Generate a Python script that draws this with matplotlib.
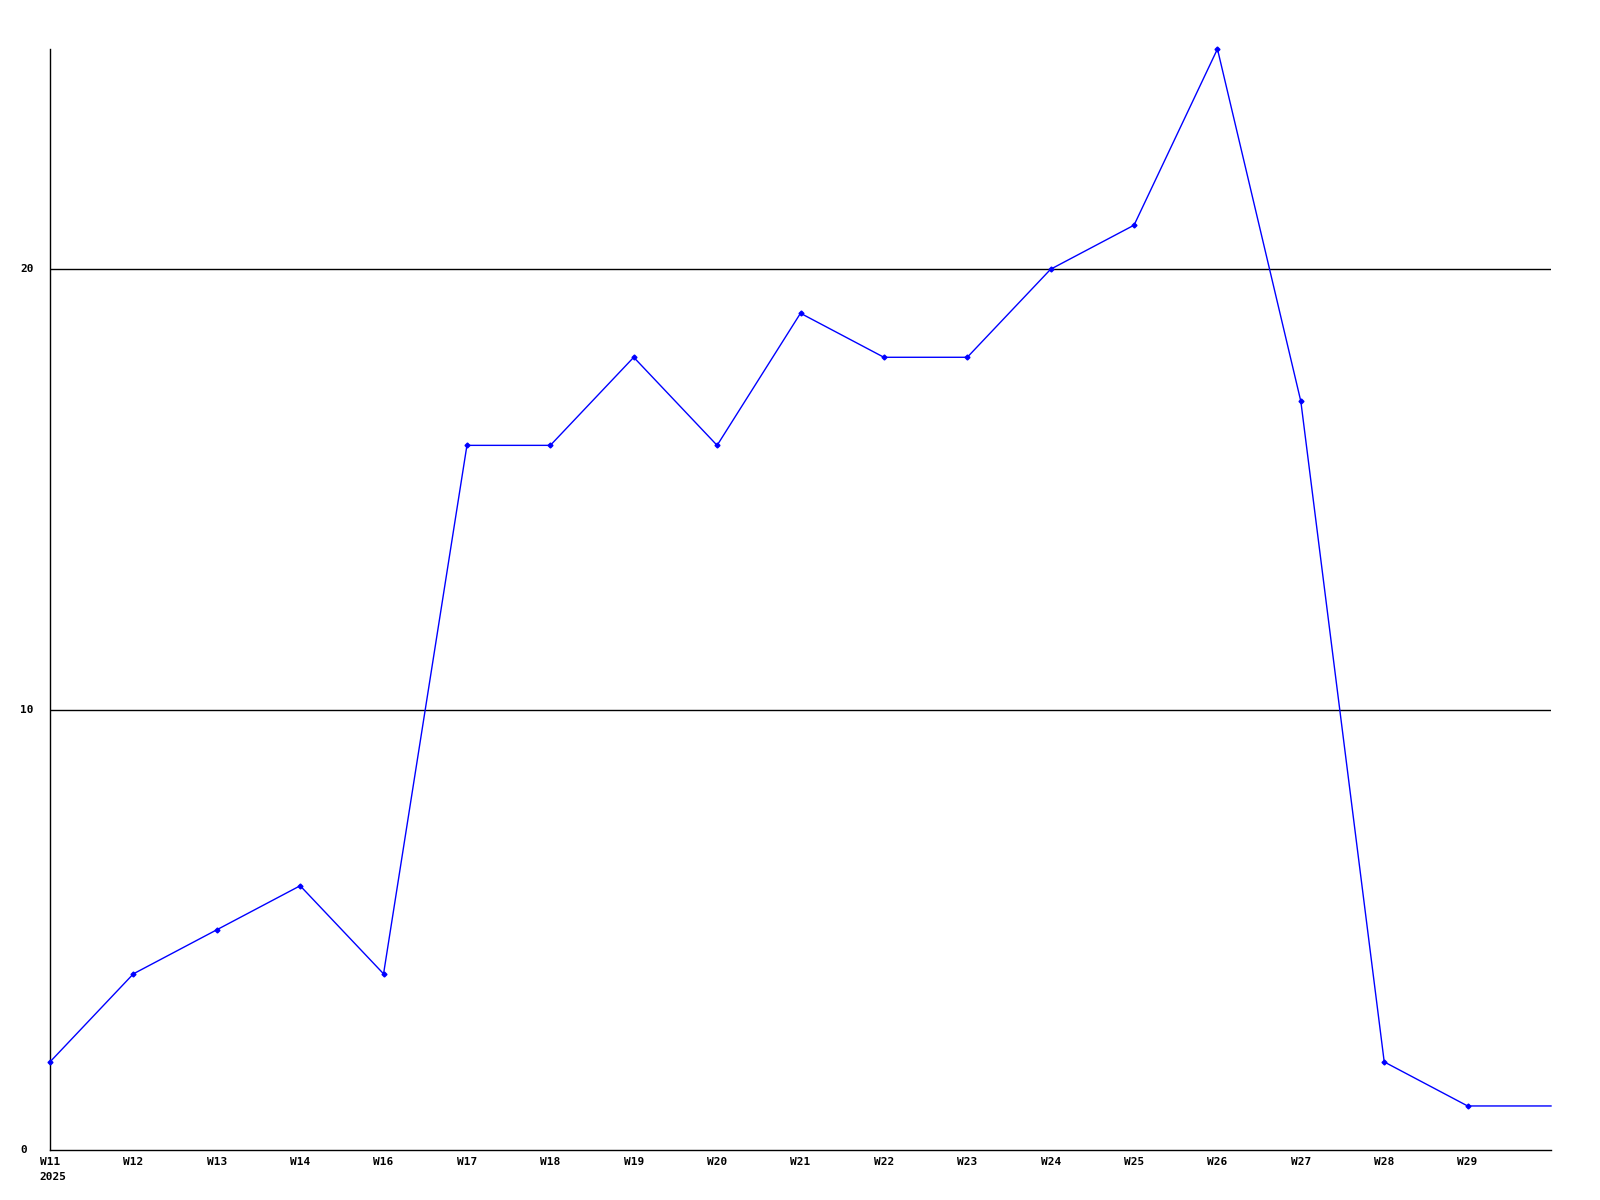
import matplotlib
matplotlib.use("Agg")
import matplotlib.pyplot as plt
import matplotlib.transforms as mtransforms

week_labels = ["W11", "W12", "W13", "W14", "W16", "W17", "W18", "W19", "W20",
               "W21", "W22", "W23", "W24", "W25", "W26", "W27", "W28", "W29"]
values = [2, 4, 5, 6, 4, 16, 16, 18, 16, 19, 18, 18, 20, 21, 25, 17, 2, 1, 1]
y_ticks = [0, 10, 20]
year_label = "2025"

fig = plt.figure(figsize=(16, 12), dpi=100)
ax = fig.add_axes([50/1600, 1 - 1150/1200, (1551-50)/1600, (1150-49)/1200])

x = list(range(len(values)))
ax.plot(x, values, color="#0000ff", linewidth=1.0, marker="D", markersize=2.5,
        markevery=list(range(len(week_labels))), clip_on=False, zorder=3)

for yv in y_ticks[1:]:
    ax.axhline(yv, color="black", linewidth=1.0, zorder=1)

ax.set_xlim(0, len(week_labels))
ax.set_ylim(0, 25)
for s in ["top", "right"]:
    ax.spines[s].set_visible(False)
for s in ["left", "bottom"]:
    ax.spines[s].set_linewidth(1.0)
    ax.spines[s].set_color("black")

font = dict(family="DejaVu Sans Mono", weight="bold", size=8)
ax.set_xticks(range(len(week_labels)))
ax.set_xticklabels(week_labels, **font)
ax.tick_params(axis="x", length=0, pad=5)
ax.set_yticks([])

trans = mtransforms.blended_transform_factory(fig.transFigure, ax.transData)
for yv in y_ticks:
    fig.text(20/1600, yv, str(yv), transform=trans, ha="left", va="center", **font)
fig.text(39/1600, 1 - 1177/1200, year_label, ha="left", va="center", **font)

fig.savefig("out.png", dpi=100, facecolor="white")
